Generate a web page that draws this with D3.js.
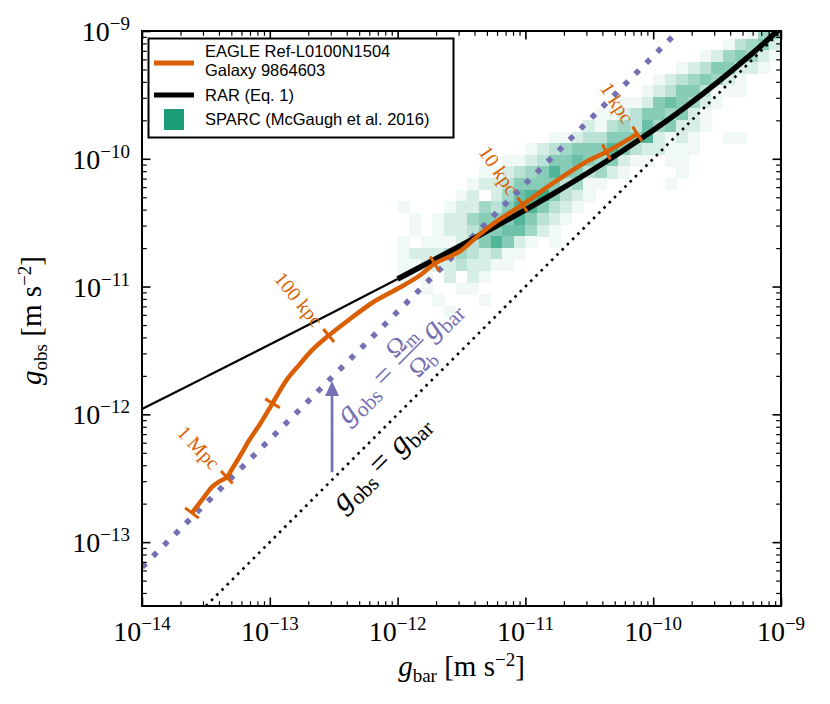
<!DOCTYPE html>
<html><head><meta charset="utf-8">
<script src="https://cdn.jsdelivr.net/npm/d3@7"></script>
<style>body{margin:0;background:#fff}</style>
</head><body><svg id="c" width="830" height="704"></svg>
<script>
// ---------------- data ----------------
const xDomain = [1e-14, 1e-9];
const yDomain = [3.1623e-14, 1e-9];
const xTickExps = [-14, -13, -12, -11, -10, -9];
const yTickExps = [-13, -12, -11, -10, -9];

// EAGLE galaxy 9864603 track (g_bar, g_obs) [m s^-2]
const galaxyGbar = [2.46e-14, 2.74e-14, 3.10e-14, 3.52e-14, 3.93e-14, 4.61e-14, 5.05e-14, 5.83e-14, 6.98e-14, 8.35e-14,
  1.05e-13, 1.36e-13, 1.71e-13, 2.17e-13, 2.89e-13, 4.00e-13, 6.38e-13, 1.04e-12, 1.49e-12, 1.95e-12,
  3.05e-12, 4.37e-12, 5.93e-12, 9.48e-12, 1.62e-11, 3.00e-11, 4.30e-11, 6.49e-11, 7.50e-11];
const galaxyGobs = [1.69e-13, 1.95e-13, 2.29e-13, 2.69e-13, 2.94e-13, 3.22e-13, 3.72e-13, 4.70e-13, 6.38e-13, 8.35e-13,
  1.22e-12, 1.87e-12, 2.46e-12, 3.22e-12, 4.14e-12, 5.33e-12, 7.50e-12, 9.82e-12, 1.22e-11, 1.51e-11,
  1.88e-11, 2.55e-11, 3.22e-11, 4.37e-11, 6.38e-11, 9.48e-11, 1.13e-10, 1.43e-10, 1.57e-10];

// radius markers along the track
const markerGbar = [2.46e-14, 4.61e-14, 1.05e-13, 2.89e-13, 1.95e-12, 9.48e-12, 4.30e-11, 7.50e-11];
const markerGobs = [1.69e-13, 3.22e-13, 1.22e-12, 4.14e-12, 1.51e-11, 4.37e-11, 1.13e-10, 1.57e-10];
const markerLabels = ["", "1 Mpc", "", "100 kpc", "", "10 kpc", "", "1 kpc"];

// RAR (Eq. 1)
const rarThinGbar = [1e-14, 3.162e-14, 1e-13, 3.162e-13, 1e-12];
const rarThinGobs = [1.100e-12, 1.964e-12, 3.514e-12, 6.320e-12, 1.146e-11];
const rarGbar = [1e-12, 1.778e-12, 3.162e-12, 5.623e-12, 1e-11, 1.778e-11, 3.162e-11, 5.623e-11, 1e-10, 1.778e-10, 3.162e-10, 5.623e-10, 1e-9];
const rarGobs = [1.146e-11, 1.552e-11, 2.111e-11, 2.889e-11, 3.988e-11, 5.566e-11, 7.876e-11, 1.1345e-10, 1.6704e-10, 2.526e-10, 3.939e-10, 6.353e-10, 1.059e-9];

// reference lines
const unityGbar = [3.1623e-14, 1e-9];
const unityGobs = [3.1623e-14, 1e-9];
const cosmicGbar = [1e-14, 1.572e-10];
const cosmicGobs = [6.36e-14, 1e-9];

// arrow
const arrowGbar = 3.07e-13;
const arrowFromGobs = 3.52e-13;
const arrowToGobs = 1.82e-12;

// SPARC 2D histogram (levels 0-9), bins of 1/11 dex
const sparcBinStart = -12;      // log10 g_bar of first column edge
const sparcBinTop = -8.969;     // log10 g_obs of top row edge
const sparcBinWidth = 1 / 11;
const sparcRowStart = [30, 28, 26, 24, 22, 21, 19, 17, 16, 13, 11, 9, 7, 6, 5, 0, 1, 1, 0, 0, 0, 0, 1, 3, 4];
const sparcRowLevels = [
  "145",
  "13452",
  "1245421",
  "12355221",
  "12345421",
  "123553111",
  "112565421",
  "1123554521",
  "21343645221",
  "11233555721210011",
  "123455575322111",
  "1123556545211011",
  "112345755342100001",
  "122355553411000001",
  "120246785321",
  "1000122435775321",
  "10122455575321",
  "1012235566421",
  "10111235752101",
  "12223432311",
  "1122232211",
  "11102021",
  "01001100",
  "10001",
  "1"
];

// ---------------- drawing ----------------
const L = 142, R = 781, T = 31, B = 606;
const ORANGE = "#d95f02", PURPLE = "#7570b3", GREEN = "#1b9e77";
const SERIF = "'Liberation Serif','DejaVu Serif',serif";
const SANS = "'Liberation Sans','DejaVu Sans',sans-serif";

const svg = d3.select("#c");
svg.append("rect").attr("width", 830).attr("height", 704).attr("fill", "#fff");
const x = d3.scaleLog().domain(xDomain).range([L, R]);
const y = d3.scaleLog().domain(yDomain).range([B, T]);

svg.append("defs").append("clipPath").attr("id", "clip")
  .append("rect").attr("x", L).attr("y", T).attr("width", R - L).attr("height", B - T);
const plot = svg.append("g").attr("clip-path", "url(#clip)");

// heatmap
const cells = [];
sparcRowLevels.forEach((s, r) => {
  for (let k = 0; k < s.length; k++) {
    const lev = +s[k];
    if (lev > 0) cells.push({ r, c: sparcRowStart[r] + k, lev });
  }
});
const green = d3.interpolateRgb("#ffffff", GREEN);
const p10 = v => Math.pow(10, v);
plot.append("g").selectAll("rect").data(cells).join("rect")
  .attr("x", d => x(p10(sparcBinStart + d.c * sparcBinWidth)))
  .attr("width", d => x(p10(sparcBinStart + (d.c + 1) * sparcBinWidth)) - x(p10(sparcBinStart + d.c * sparcBinWidth)) + 0.5)
  .attr("y", d => y(p10(sparcBinTop - d.r * sparcBinWidth)))
  .attr("height", d => y(p10(sparcBinTop - (d.r + 1) * sparcBinWidth)) - y(p10(sparcBinTop - d.r * sparcBinWidth)) + 0.5)
  .attr("fill", d => green(0.06 + (d.lev - 1) * 0.117))
  .attr("shape-rendering", "crispEdges");

const zip = (a, b) => a.map((v, i) => [v, b[i]]);
const lineLin = d3.line().x(d => x(d[0])).y(d => y(d[1]));
const lineSmooth = d3.line().x(d => x(d[0])).y(d => y(d[1])).curve(d3.curveCatmullRom.alpha(0.5));

// unity line
plot.append("path").attr("d", lineLin(zip(unityGbar, unityGobs)))
  .attr("fill", "none").attr("stroke", "#000").attr("stroke-width", 2.6)
  .attr("stroke-dasharray", "2.6,4.8");
// cosmic baryon fraction line
plot.append("path").attr("d", lineLin(zip(cosmicGbar, cosmicGobs)))
  .attr("fill", "none").attr("stroke", PURPLE).attr("stroke-width", 5.5)
  .attr("stroke-dasharray", "5.5,10");

// arrow
{
  const ax = x(arrowGbar), y0 = y(arrowFromGobs), y1 = y(arrowToGobs);
  plot.append("line").attr("x1", ax).attr("x2", ax).attr("y1", y0).attr("y2", y1 + 12)
    .attr("stroke", PURPLE).attr("stroke-width", 2.7);
  plot.append("path").attr("d", `M${ax},${y1} L${ax - 7},${y1 + 15} L${ax + 7},${y1 + 15} Z`).attr("fill", PURPLE);
}

// RAR
plot.append("path").attr("d", lineSmooth(zip(rarThinGbar, rarThinGobs)))
  .attr("fill", "none").attr("stroke", "#000").attr("stroke-width", 2.2);
plot.append("path").attr("d", lineSmooth(zip(rarGbar, rarGobs)))
  .attr("fill", "none").attr("stroke", "#000").attr("stroke-width", 5.5);

// galaxy track
const gpts = zip(galaxyGbar, galaxyGobs);
plot.append("path").attr("d", lineSmooth(gpts))
  .attr("fill", "none").attr("stroke", ORANGE).attr("stroke-width", 4.5)
  .attr("stroke-linejoin", "round");

const gpx = gpts.map(d => [x(d[0]), y(d[1])]);
markerGbar.forEach((gb, i) => {
  const px = x(gb), py = y(markerGobs[i]);
  let j = 0, best = 1e9;
  gpx.forEach((p, k) => { const dd = (p[0] - px) ** 2 + (p[1] - py) ** 2; if (dd < best) { best = dd; j = k; } });
  const a = gpx[Math.max(j - 1, 0)], b = gpx[Math.min(j + 1, gpx.length - 1)];
  let tx = b[0] - a[0], ty = b[1] - a[1];
  const tl = Math.hypot(tx, ty); tx /= tl; ty /= tl;
  const nx = -ty, ny = tx; // points down-right
  const h = 8.5;
  plot.append("line").attr("x1", px - h * nx).attr("y1", py - h * ny)
    .attr("x2", px + h * nx).attr("y2", py + h * ny)
    .attr("stroke", ORANGE).attr("stroke-width", 3);
  if (markerLabels[i]) {
    const ex = px - 15 * nx, ey = py - 15 * ny;
    const ang = Math.atan2(ny, nx) * 180 / Math.PI;
    svg.append("text").attr("transform", `translate(${ex},${ey}) rotate(${ang})`)
      .attr("text-anchor", "end").attr("dy", "0.35em")
      .attr("font-family", SERIF).attr("font-size", 20).attr("fill", ORANGE)
      .text(markerLabels[i]);
  }
});

// math labels along lines
function mathLabel(cx, cy, color, withFraction, targetLen) {
  const g = svg.append("g").attr("transform", `translate(${cx},${cy}) rotate(-45)`);
  const inner = g.append("g");
  const fs = 26;
  const t1 = inner.append("text").attr("x", 0).attr("y", 0).attr("fill", color)
    .attr("font-family", SERIF).attr("font-size", fs);
  t1.append("tspan").attr("font-style", "italic").text("g");
  t1.append("tspan").attr("font-size", 18).attr("dy", 5).text("obs");
  t1.append("tspan").attr("dy", -5).text("\u2009=\u2009");
  let xp = t1.node().getComputedTextLength() + 3;
  if (withFraction) {
    const top = inner.append("text").attr("y", -11).attr("fill", color).attr("font-family", SERIF).attr("font-size", 21);
    top.append("tspan").text("\u03A9");
    top.append("tspan").attr("font-size", 15).attr("dy", 3).text("m");
    const bot = inner.append("text").attr("y", 14).attr("fill", color).attr("font-family", SERIF).attr("font-size", 21);
    bot.append("tspan").text("\u03A9");
    bot.append("tspan").attr("font-size", 15).attr("dy", 3).text("b");
    const wt = top.node().getComputedTextLength(), wb = bot.node().getComputedTextLength();
    const fw = Math.max(wt, wb) + 2;
    top.attr("x", xp + (fw - wt) / 2);
    bot.attr("x", xp + (fw - wb) / 2);
    inner.append("line").attr("x1", xp).attr("x2", xp + fw).attr("y1", -6).attr("y2", -6)
      .attr("stroke", color).attr("stroke-width", 1.3);
    xp += fw + 4;
  }
  const t2 = inner.append("text").attr("x", xp).attr("y", 0).attr("fill", color)
    .attr("font-family", SERIF).attr("font-size", fs);
  t2.append("tspan").attr("font-style", "italic").text("g");
  t2.append("tspan").attr("font-size", 18).attr("dy", 5).text("bar");
  const total = xp + t2.node().getComputedTextLength();
  const s = targetLen / total;
  inner.attr("transform", `scale(${s}) translate(${-total / 2},6)`);
}
mathLabel(400, 363, PURPLE, true, 162);
mathLabel(382, 464, "#000", false, 124);

// ---------------- axes ----------------
function minorTicks(lo, hi) {
  const out = [];
  for (let e = Math.floor(Math.log10(lo)); e < Math.ceil(Math.log10(hi)); e++)
    for (let m = 2; m <= 9; m++) { const v = m * Math.pow(10, e); if (v > lo * 1.0001 && v < hi * 0.9999) out.push(v); }
  return out;
}
const xMaj = xTickExps.map(p10), yMaj = yTickExps.map(p10);
const xMin = minorTicks(xDomain[0], xDomain[1]), yMin = minorTicks(yDomain[0], yDomain[1]);
function addAxis(gen, pos, vals, size, w) {
  const g = svg.append("g").attr("transform", pos)
    .call(gen.tickValues(vals).tickSize(-size).tickFormat(""));
  g.select(".domain").remove();
  g.selectAll("line").attr("stroke-width", w);
  g.selectAll("text").remove();
}
[[() => d3.axisBottom(x), `translate(0,${B})`, xMaj, xMin],
 [() => d3.axisTop(x), `translate(0,${T})`, xMaj, xMin],
 [() => d3.axisLeft(y), `translate(${L},0)`, yMaj, yMin],
 [() => d3.axisRight(y), `translate(${R},0)`, yMaj, yMin]].forEach(([mk, pos, maj, mn]) => {
  addAxis(mk(), pos, maj, 8.5, 1.6);
  addAxis(mk(), pos, mn, 4.8, 1.2);
});
svg.append("rect").attr("x", L).attr("y", T).attr("width", R - L).attr("height", B - T)
  .attr("fill", "none").attr("stroke", "#000").attr("stroke-width", 2);

// tick labels
xTickExps.forEach(e => {
  const t = svg.append("text").attr("x", x(p10(e))).attr("y", 641).attr("text-anchor", "middle")
    .attr("font-family", SERIF).attr("font-size", 28).attr("fill", "#000");
  t.append("tspan").text("10");
  t.append("tspan").attr("font-size", 19).attr("dy", -11).text("\u2212" + Math.abs(e));
});
yTickExps.forEach(e => {
  const t = svg.append("text").attr("x", 130).attr("y", y(p10(e)) + 10).attr("text-anchor", "end")
    .attr("font-family", SERIF).attr("font-size", 28).attr("fill", "#000");
  t.append("tspan").text("10");
  t.append("tspan").attr("font-size", 19).attr("dy", -11).text("\u2212" + Math.abs(e));
});

// axis titles
function axisTitle(sub, tr) {
  const t = svg.append("text").attr("transform", tr).attr("text-anchor", "middle")
    .attr("font-family", SERIF).attr("font-size", 29).attr("fill", "#000");
  t.append("tspan").attr("font-style", "italic").text("g");
  t.append("tspan").attr("font-size", 19).attr("dy", 6).text(sub);
  t.append("tspan").attr("dy", -6).text(" [m s");
  t.append("tspan").attr("font-size", 19).attr("dy", -10).text("\u22122");
  t.append("tspan").attr("dy", 10).text("]");
}
axisTitle("bar", `translate(${(L + R) / 2},676)`);
axisTitle("obs", `translate(41,${(T + B) / 2 + 2}) rotate(-90)`);

// ---------------- legend ----------------
const lg = svg.append("g");
lg.append("rect").attr("x", 148.5).attr("y", 38.5).attr("width", 305).attr("height", 99)
  .attr("fill", "#fff").attr("stroke", "#000").attr("stroke-width", 2);
lg.append("line").attr("x1", 154).attr("x2", 194).attr("y1", 63).attr("y2", 63)
  .attr("stroke", ORANGE).attr("stroke-width", 5);
lg.append("line").attr("x1", 154).attr("x2", 194).attr("y1", 95).attr("y2", 95)
  .attr("stroke", "#000").attr("stroke-width", 5);
lg.append("rect").attr("x", 164).attr("y", 109).attr("width", 20).attr("height", 21).attr("fill", GREEN);
const legText = [["EAGLE Ref-L0100N1504", 56.5], ["Galaxy 9864603", 75.5], ["RAR (Eq. 1)", 101], ["SPARC (McGaugh et al. 2016)", 125]];
legText.forEach(([s, yb]) => {
  lg.append("text").attr("x", 205).attr("y", yb).attr("font-family", SANS)
    .attr("font-size", 16.5).attr("fill", "#000").text(s);
});
</script>
</body></html>
